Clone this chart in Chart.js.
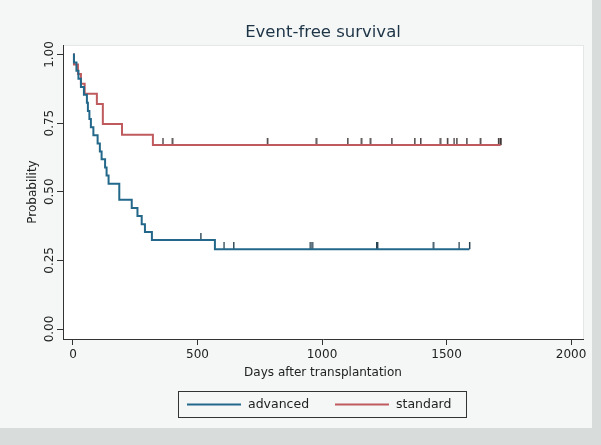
<!DOCTYPE html>
<html>
<head>
<meta charset="utf-8">
<script src="https://cdn.jsdelivr.net/npm/chart.js@4.4.1/dist/chart.umd.min.js"></script>
<style>
  html, body { margin: 0; padding: 0; background: #d8dcdb; }
  canvas { display: block; }
</style>
</head>
<body>
<canvas id="kmChart" width="601" height="445"></canvas>
<script>
// Kaplan-Meier curves: event-free survival after transplantation

const chartTitle = 'Event-free survival';
const xTitle = 'Days after transplantation';
const yTitle = 'Probability';
const seriesLabels = ['advanced', 'standard'];
const seriesColors = ['#23688a', '#bf5b5e'];
const xTicks = [0, 500, 1000, 1500, 2000];
const yTicks = [0, 0.25, 0.5, 0.75, 1];

// advanced: day of each drop and survival right after it
const advTimes = [4, 14, 22, 32, 44, 56, 60, 66, 72, 82, 99, 108, 115, 129, 135, 143, 186, 236, 259, 276, 289, 317, 570];
const advSurv = [0.971, 0.941, 0.912, 0.882, 0.853, 0.824, 0.794, 0.765, 0.735, 0.706, 0.676, 0.647, 0.618, 0.588, 0.559, 0.529, 0.471, 0.441, 0.412, 0.382, 0.353, 0.324, 0.291];
const advCensor = [513, 606, 645, 952, 960, 1219, 1222, 1446, 1550, 1592];

// standard
const stdTimes = [4, 20, 32, 47, 96, 120, 197, 321];
const stdSurv = [0.964, 0.929, 0.893, 0.857, 0.82, 0.747, 0.708, 0.67];
const stdCensor = [361, 398, 780, 976, 1103, 1157, 1193, 1280, 1372, 1396, 1474, 1503, 1530, 1541, 1581, 1635, 1708, 1715, 1717];

function stepPoints(times, surv, censor) {
  const pts = [{ x: 0, y: 1 }];
  times.forEach((t, i) => pts.push({ x: t, y: surv[i] }));
  pts.push({ x: Math.max(...censor), y: surv[surv.length - 1] });
  return pts;
}

function censorPoints(times, surv, censor) {
  return censor.map(c => {
    let s = 1;
    times.forEach((t, i) => { if (t <= c) s = surv[i]; });
    return { x: c, y: s };
  });
}

// small upward tick used as the censoring mark
function tickMark(color) {
  const c = document.createElement('canvas');
  c.width = 3;
  c.height = 14;
  const g = c.getContext('2d');
  g.fillStyle = color;
  g.fillRect(1, 0, 1.4, 7);
  return c;
}

const fontFamily = '"DejaVu Sans", sans-serif';

const stataLook = {
  id: 'stataLook',
  beforeDraw(chart) {
    const ctx = chart.ctx;
    const a = chart.chartArea;
    ctx.save();
    ctx.fillStyle = '#d8dcdb';
    ctx.fillRect(0, 0, chart.width, chart.height);
    ctx.fillStyle = '#f4f7f6';
    ctx.fillRect(0, 0, 592, 428);
    ctx.fillStyle = '#ffffff';
    ctx.fillRect(a.left, a.top, a.right - a.left, a.bottom - a.top);
    ctx.strokeStyle = '#e3e7e6';
    ctx.lineWidth = 1;
    ctx.strokeRect(a.left + 0.5, a.top + 0.5, a.right - a.left, a.bottom - a.top);
    ctx.restore();
  },
  afterDraw(chart) {
    const ctx = chart.ctx;
    const a = chart.chartArea;
    const yScale = chart.scales.y;
    ctx.save();

    // rotated y tick labels
    ctx.fillStyle = '#222';
    ctx.font = '12px ' + fontFamily;
    ctx.textAlign = 'center';
    ctx.textBaseline = 'middle';
    yTicks.forEach(v => {
      ctx.save();
      ctx.translate(50, yScale.getPixelForValue(v));
      ctx.rotate(-Math.PI / 2);
      ctx.fillText(v.toFixed(2), 0, 0);
      ctx.restore();
    });

    // title
    ctx.fillStyle = '#1d3346';
    ctx.font = '16.5px ' + fontFamily;
    ctx.fillText(chartTitle, (a.left + a.right) / 2, 33);

    // legend with frame
    const bx = 178, by = 391, bw = 288, bh = 26;
    ctx.strokeStyle = '#333';
    ctx.lineWidth = 1;
    ctx.strokeRect(bx + 0.5, by + 0.5, bw, bh);
    const cy = by + bh / 2 + 0.5;
    const entryX = [bx + 9, bx + 157];
    ctx.font = '12.5px ' + fontFamily;
    ctx.textAlign = 'left';
    ctx.fillStyle = '#222';
    seriesLabels.forEach((lab, i) => {
      ctx.strokeStyle = seriesColors[i];
      ctx.lineWidth = 2;
      ctx.beginPath();
      ctx.moveTo(entryX[i], cy);
      ctx.lineTo(entryX[i] + 54, cy);
      ctx.stroke();
      ctx.fillText(lab, entryX[i] + 61, cy);
    });
    ctx.restore();
  }
};

const ctx = document.getElementById('kmChart').getContext('2d');
const kmChart = new Chart(ctx, {
  type: 'scatter',
  data: {
    datasets: [
      {
        label: seriesLabels[0],
        data: stepPoints(advTimes, advSurv, advCensor),
        showLine: true,
        stepped: 'before',
        borderColor: seriesColors[0],
        borderWidth: 2,
        pointRadius: 0
      },
      {
        label: seriesLabels[1],
        data: stepPoints(stdTimes, stdSurv, stdCensor),
        showLine: true,
        stepped: 'before',
        borderColor: seriesColors[1],
        borderWidth: 2,
        pointRadius: 0
      },
      {
        label: 'advanced censored',
        data: censorPoints(advTimes, advSurv, advCensor),
        pointStyle: tickMark('#1d3a4a'),
        pointRadius: 4
      },
      {
        label: 'standard censored',
        data: censorPoints(stdTimes, stdSurv, stdCensor),
        pointStyle: tickMark('#3a3030'),
        pointRadius: 4
      }
    ]
  },
  options: {
    responsive: false,
    animation: false,
    events: [],
    layout: { padding: { left: 0, right: 18, top: 45, bottom: 0 } },
    plugins: {
      legend: { display: false },
      tooltip: { enabled: false },
      title: { display: false }
    },
    scales: {
      x: {
        type: 'linear',
        min: -40,
        max: 2048,
        afterBuildTicks: axis => { axis.ticks = xTicks.map(v => ({ value: v })); },
        afterFit: scale => { scale.height = 106; },
        grid: { drawOnChartArea: false, drawTicks: true, tickLength: 6, color: '#333' },
        border: { display: true, color: '#333', width: 1 },
        ticks: {
          color: '#222',
          font: { family: fontFamily, size: 12 },
          padding: 3,
          maxRotation: 0,
          callback: v => v
        },
        title: {
          display: true,
          text: xTitle,
          color: '#222',
          font: { family: fontFamily, size: 12 },
          padding: { top: 2, bottom: 65 }
        }
      },
      y: {
        type: 'linear',
        min: -0.0364,
        max: 1.0346,
        afterBuildTicks: axis => { axis.ticks = yTicks.map(v => ({ value: v })); },
        afterFit: scale => { scale.width = 63; },
        grid: { drawOnChartArea: false, drawTicks: true, tickLength: 6, color: '#333' },
        border: { display: true, color: '#333', width: 1 },
        ticks: { display: false },
        title: {
          display: true,
          text: yTitle,
          color: '#222',
          font: { family: fontFamily, size: 12 },
          padding: { top: 26, bottom: 0 }
        }
      }
    }
  },
  plugins: [stataLook]
});
</script>
</body>
</html>
